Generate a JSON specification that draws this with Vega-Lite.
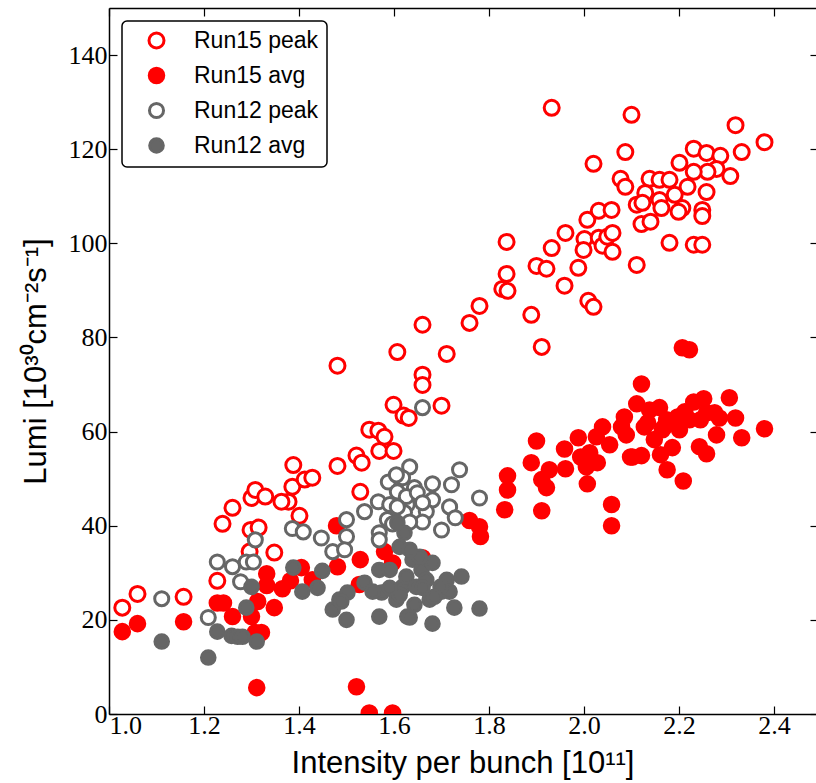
{
  "$schema": "https://vega.github.io/schema/vega-lite/v6.json",
  "width": 707,
  "height": 706,
  "autosize": {"type": "none"},
  "padding": {"left": 109, "top": 8, "right": 0, "bottom": 69},
  "background": "white",
  "config": {
    "view": {"stroke": null},
    "axis": {
      "grid": false,
      "domainColor": "#000000",
      "domainWidth": 1.5,
      "tickColor": "#000000",
      "tickWidth": 1.2,
      "labelFont": "Liberation Serif",
      "labelFontSize": 26,
      "labelColor": "#000000",
      "titleFont": "Liberation Sans",
      "titleFontSize": 31,
      "titleFontWeight": "normal",
      "titleColor": "#000000"
    },
    "legend": {
      "fillColor": "#ffffff",
      "strokeColor": "#000000",
      "strokeWidth": 1.5,
      "cornerRadius": 5,
      "padding": 8,
      "labelFont": "Liberation Sans",
      "labelFontSize": 23,
      "labelColor": "#000000",
      "symbolOffset": 15,
      "labelOffset": 26,
      "rowPadding": 8,
      "symbolStrokeWidth": 3,
      "symbolType": "circle"
    }
  },
  "data": {"values": [
    {"s":"Run15 peak","x":1.028,"y":22.6},{"s":"Run15 peak","x":1.060,"y":25.5},{"s":"Run15 peak","x":1.157,"y":24.9},{"s":"Run15 peak","x":1.228,"y":28.3},{"s":"Run15 peak","x":1.239,"y":40.4},{"s":"Run15 peak","x":1.260,"y":43.8},{"s":"Run15 peak","x":1.300,"y":45.9},{"s":"Run15 peak","x":1.308,"y":47.6},{"s":"Run15 peak","x":1.329,"y":46.2},{"s":"Run15 peak","x":1.298,"y":39.1},{"s":"Run15 peak","x":1.315,"y":39.6},{"s":"Run15 peak","x":1.296,"y":34.5},{"s":"Run15 peak","x":1.348,"y":34.3},{"s":"Run15 peak","x":1.388,"y":52.9},{"s":"Run15 peak","x":1.386,"y":48.3},{"s":"Run15 peak","x":1.378,"y":45.1},{"s":"Run15 peak","x":1.363,"y":45.1},{"s":"Run15 peak","x":1.401,"y":42.1},{"s":"Run15 peak","x":1.412,"y":49.8},{"s":"Run15 peak","x":1.428,"y":50.2},{"s":"Run15 peak","x":1.481,"y":52.7},{"s":"Run15 peak","x":1.521,"y":54.9},{"s":"Run15 peak","x":1.532,"y":53.4},{"s":"Run15 peak","x":1.529,"y":47.2},{"s":"Run15 peak","x":1.548,"y":60.4},{"s":"Run15 peak","x":1.567,"y":60.2},{"s":"Run15 peak","x":1.580,"y":58.9},{"s":"Run15 peak","x":1.569,"y":55.9},{"s":"Run15 peak","x":1.599,"y":55.9},{"s":"Run15 peak","x":1.599,"y":65.7},{"s":"Run15 peak","x":1.620,"y":63.4},{"s":"Run15 peak","x":1.631,"y":62.9},{"s":"Run15 peak","x":1.700,"y":65.5},{"s":"Run15 peak","x":1.481,"y":74.0},{"s":"Run15 peak","x":1.607,"y":76.9},{"s":"Run15 peak","x":1.660,"y":82.7},{"s":"Run15 peak","x":1.711,"y":76.5},{"s":"Run15 peak","x":1.660,"y":72.1},{"s":"Run15 peak","x":1.660,"y":69.9},{"s":"Run15 peak","x":1.759,"y":83.1},{"s":"Run15 peak","x":1.780,"y":86.7},{"s":"Run15 peak","x":1.828,"y":90.3},{"s":"Run15 peak","x":1.839,"y":89.9},{"s":"Run15 peak","x":1.837,"y":93.5},{"s":"Run15 peak","x":1.837,"y":100.3},{"s":"Run15 peak","x":1.911,"y":78.0},{"s":"Run15 peak","x":1.889,"y":84.8},{"s":"Run15 peak","x":1.959,"y":91.0},{"s":"Run15 peak","x":2.009,"y":87.8},{"s":"Run15 peak","x":2.020,"y":86.5},{"s":"Run15 peak","x":1.988,"y":94.8},{"s":"Run15 peak","x":1.900,"y":95.2},{"s":"Run15 peak","x":1.921,"y":94.6},{"s":"Run15 peak","x":1.932,"y":99.0},{"s":"Run15 peak","x":1.961,"y":102.2},{"s":"Run15 peak","x":2.001,"y":100.9},{"s":"Run15 peak","x":1.999,"y":98.6},{"s":"Run15 peak","x":2.031,"y":101.2},{"s":"Run15 peak","x":2.039,"y":99.5},{"s":"Run15 peak","x":2.049,"y":101.4},{"s":"Run15 peak","x":2.060,"y":102.2},{"s":"Run15 peak","x":2.060,"y":98.2},{"s":"Run15 peak","x":2.007,"y":105.0},{"s":"Run15 peak","x":2.031,"y":106.9},{"s":"Run15 peak","x":2.058,"y":107.1},{"s":"Run15 peak","x":2.020,"y":116.9},{"s":"Run15 peak","x":1.932,"y":128.8},{"s":"Run15 peak","x":2.100,"y":127.3},{"s":"Run15 peak","x":2.087,"y":119.4},{"s":"Run15 peak","x":2.077,"y":113.7},{"s":"Run15 peak","x":2.087,"y":112.0},{"s":"Run15 peak","x":2.138,"y":113.7},{"s":"Run15 peak","x":2.129,"y":110.7},{"s":"Run15 peak","x":2.111,"y":108.2},{"s":"Run15 peak","x":2.123,"y":108.6},{"s":"Run15 peak","x":2.121,"y":104.1},{"s":"Run15 peak","x":2.140,"y":104.6},{"s":"Run15 peak","x":2.111,"y":95.4},{"s":"Run15 peak","x":2.159,"y":113.5},{"s":"Run15 peak","x":2.180,"y":113.5},{"s":"Run15 peak","x":2.159,"y":109.2},{"s":"Run15 peak","x":2.163,"y":107.5},{"s":"Run15 peak","x":2.191,"y":110.3},{"s":"Run15 peak","x":2.201,"y":117.1},{"s":"Run15 peak","x":2.218,"y":112.0},{"s":"Run15 peak","x":2.207,"y":107.5},{"s":"Run15 peak","x":2.199,"y":106.7},{"s":"Run15 peak","x":2.180,"y":100.1},{"s":"Run15 peak","x":2.231,"y":120.1},{"s":"Run15 peak","x":2.258,"y":119.2},{"s":"Run15 peak","x":2.287,"y":118.6},{"s":"Run15 peak","x":2.319,"y":125.1},{"s":"Run15 peak","x":2.332,"y":119.4},{"s":"Run15 peak","x":2.380,"y":121.5},{"s":"Run15 peak","x":2.308,"y":114.3},{"s":"Run15 peak","x":2.279,"y":115.8},{"s":"Run15 peak","x":2.260,"y":115.2},{"s":"Run15 peak","x":2.231,"y":115.2},{"s":"Run15 peak","x":2.258,"y":110.9},{"s":"Run15 peak","x":2.249,"y":107.1},{"s":"Run15 peak","x":2.249,"y":105.8},{"s":"Run15 peak","x":2.231,"y":99.7},{"s":"Run15 peak","x":2.249,"y":99.7},
    {"s":"Run15 avg","x":1.028,"y":17.5},{"s":"Run15 avg","x":1.060,"y":19.2},{"s":"Run15 avg","x":1.157,"y":19.6},{"s":"Run15 avg","x":1.228,"y":23.6},{"s":"Run15 avg","x":1.241,"y":23.6},{"s":"Run15 avg","x":1.260,"y":20.7},{"s":"Run15 avg","x":1.300,"y":20.7},{"s":"Run15 avg","x":1.313,"y":23.9},{"s":"Run15 avg","x":1.332,"y":29.8},{"s":"Run15 avg","x":1.332,"y":27.3},{"s":"Run15 avg","x":1.308,"y":17.3},{"s":"Run15 avg","x":1.321,"y":17.3},{"s":"Run15 avg","x":1.311,"y":5.6},{"s":"Run15 avg","x":1.348,"y":22.6},{"s":"Run15 avg","x":1.365,"y":26.6},{"s":"Run15 avg","x":1.382,"y":28.3},{"s":"Run15 avg","x":1.405,"y":31.1},{"s":"Run15 avg","x":1.428,"y":28.5},{"s":"Run15 avg","x":1.479,"y":40.0},{"s":"Run15 avg","x":1.481,"y":31.3},{"s":"Run15 avg","x":1.529,"y":32.8},{"s":"Run15 avg","x":1.527,"y":27.5},{"s":"Run15 avg","x":1.580,"y":34.5},{"s":"Run15 avg","x":1.597,"y":32.1},{"s":"Run15 avg","x":1.660,"y":33.2},{"s":"Run15 avg","x":1.521,"y":5.8},{"s":"Run15 avg","x":1.548,"y":0.2},{"s":"Run15 avg","x":1.597,"y":0.2},{"s":"Run15 avg","x":1.759,"y":41.1},{"s":"Run15 avg","x":1.780,"y":39.8},{"s":"Run15 avg","x":1.782,"y":37.7},{"s":"Run15 avg","x":1.833,"y":43.4},{"s":"Run15 avg","x":1.839,"y":47.6},{"s":"Run15 avg","x":1.839,"y":50.6},{"s":"Run15 avg","x":1.889,"y":53.4},{"s":"Run15 avg","x":1.900,"y":58.0},{"s":"Run15 avg","x":1.911,"y":49.8},{"s":"Run15 avg","x":1.921,"y":48.1},{"s":"Run15 avg","x":1.927,"y":51.9},{"s":"Run15 avg","x":1.911,"y":43.2},{"s":"Run15 avg","x":1.959,"y":56.3},{"s":"Run15 avg","x":1.961,"y":52.1},{"s":"Run15 avg","x":1.988,"y":58.7},{"s":"Run15 avg","x":1.993,"y":54.6},{"s":"Run15 avg","x":2.007,"y":48.9},{"s":"Run15 avg","x":2.012,"y":55.5},{"s":"Run15 avg","x":2.005,"y":52.5},{"s":"Run15 avg","x":2.026,"y":58.9},{"s":"Run15 avg","x":2.039,"y":61.0},{"s":"Run15 avg","x":2.054,"y":57.2},{"s":"Run15 avg","x":2.028,"y":53.4},{"s":"Run15 avg","x":2.058,"y":44.5},{"s":"Run15 avg","x":2.058,"y":40.0},{"s":"Run15 avg","x":2.085,"y":63.1},{"s":"Run15 avg","x":2.079,"y":61.0},{"s":"Run15 avg","x":2.089,"y":59.3},{"s":"Run15 avg","x":2.098,"y":54.6},{"s":"Run15 avg","x":2.111,"y":65.9},{"s":"Run15 avg","x":2.121,"y":70.1},{"s":"Run15 avg","x":2.127,"y":61.0},{"s":"Run15 avg","x":2.102,"y":54.6},{"s":"Run15 avg","x":2.121,"y":54.9},{"s":"Run15 avg","x":2.134,"y":61.9},{"s":"Run15 avg","x":2.138,"y":64.6},{"s":"Run15 avg","x":2.159,"y":65.1},{"s":"Run15 avg","x":2.169,"y":61.0},{"s":"Run15 avg","x":2.174,"y":62.5},{"s":"Run15 avg","x":2.161,"y":55.1},{"s":"Run15 avg","x":2.175,"y":51.9},{"s":"Run15 avg","x":2.186,"y":56.6},{"s":"Run15 avg","x":2.197,"y":63.1},{"s":"Run15 avg","x":2.212,"y":64.2},{"s":"Run15 avg","x":2.201,"y":60.4},{"s":"Run15 avg","x":2.209,"y":49.5},{"s":"Run15 avg","x":2.207,"y":77.8},{"s":"Run15 avg","x":2.222,"y":77.4},{"s":"Run15 avg","x":2.231,"y":66.3},{"s":"Run15 avg","x":2.252,"y":67.0},{"s":"Run15 avg","x":2.222,"y":62.5},{"s":"Run15 avg","x":2.245,"y":62.5},{"s":"Run15 avg","x":2.258,"y":64.0},{"s":"Run15 avg","x":2.275,"y":64.0},{"s":"Run15 avg","x":2.279,"y":59.3},{"s":"Run15 avg","x":2.285,"y":62.9},{"s":"Run15 avg","x":2.243,"y":56.8},{"s":"Run15 avg","x":2.258,"y":55.3},{"s":"Run15 avg","x":2.306,"y":67.2},{"s":"Run15 avg","x":2.319,"y":62.9},{"s":"Run15 avg","x":2.332,"y":58.7},{"s":"Run15 avg","x":2.380,"y":60.6},{"s":"Run15 avg","x":2.165,"y":60.4},{"s":"Run15 avg","x":2.148,"y":58.3},
    {"s":"Run12 peak","x":1.111,"y":24.5},{"s":"Run12 peak","x":1.209,"y":20.5},{"s":"Run12 peak","x":1.228,"y":32.3},{"s":"Run12 peak","x":1.260,"y":31.3},{"s":"Run12 peak","x":1.277,"y":28.1},{"s":"Run12 peak","x":1.289,"y":32.3},{"s":"Run12 peak","x":1.304,"y":32.3},{"s":"Run12 peak","x":1.308,"y":37.0},{"s":"Run12 peak","x":1.386,"y":39.4},{"s":"Run12 peak","x":1.409,"y":38.7},{"s":"Run12 peak","x":1.447,"y":37.4},{"s":"Run12 peak","x":1.471,"y":34.5},{"s":"Run12 peak","x":1.500,"y":41.3},{"s":"Run12 peak","x":1.500,"y":37.7},{"s":"Run12 peak","x":1.496,"y":34.9},{"s":"Run12 peak","x":1.538,"y":43.0},{"s":"Run12 peak","x":1.567,"y":45.1},{"s":"Run12 peak","x":1.569,"y":38.5},{"s":"Run12 peak","x":1.569,"y":37.0},{"s":"Run12 peak","x":1.588,"y":49.3},{"s":"Run12 peak","x":1.607,"y":47.2},{"s":"Run12 peak","x":1.586,"y":41.3},{"s":"Run12 peak","x":1.597,"y":40.4},{"s":"Run12 peak","x":1.660,"y":65.1},{"s":"Run12 peak","x":1.633,"y":52.5},{"s":"Run12 peak","x":1.738,"y":51.9},{"s":"Run12 peak","x":1.618,"y":50.2},{"s":"Run12 peak","x":1.681,"y":48.9},{"s":"Run12 peak","x":1.721,"y":48.7},{"s":"Run12 peak","x":1.643,"y":48.1},{"s":"Run12 peak","x":1.780,"y":45.9},{"s":"Run12 peak","x":1.591,"y":44.5},{"s":"Run12 peak","x":1.628,"y":44.5},{"s":"Run12 peak","x":1.681,"y":45.5},{"s":"Run12 peak","x":1.717,"y":44.0},{"s":"Run12 peak","x":1.668,"y":43.0},{"s":"Run12 peak","x":1.622,"y":42.8},{"s":"Run12 peak","x":1.729,"y":41.7},{"s":"Run12 peak","x":1.660,"y":40.8},{"s":"Run12 peak","x":1.700,"y":39.1},{"s":"Run12 peak","x":1.605,"y":50.8},{"s":"Run12 peak","x":1.626,"y":46.2},{"s":"Run12 peak","x":1.649,"y":47.0},{"s":"Run12 peak","x":1.660,"y":44.9},{"s":"Run12 peak","x":1.607,"y":44.0},{"s":"Run12 peak","x":1.633,"y":40.8},
    {"s":"Run12 avg","x":1.111,"y":15.4},{"s":"Run12 avg","x":1.209,"y":12.0},{"s":"Run12 avg","x":1.228,"y":17.5},{"s":"Run12 avg","x":1.258,"y":16.6},{"s":"Run12 avg","x":1.271,"y":16.4},{"s":"Run12 avg","x":1.281,"y":16.4},{"s":"Run12 avg","x":1.311,"y":15.4},{"s":"Run12 avg","x":1.289,"y":22.6},{"s":"Run12 avg","x":1.300,"y":27.0},{"s":"Run12 avg","x":1.388,"y":31.1},{"s":"Run12 avg","x":1.407,"y":26.0},{"s":"Run12 avg","x":1.439,"y":26.8},{"s":"Run12 avg","x":1.449,"y":30.4},{"s":"Run12 avg","x":1.471,"y":22.2},{"s":"Run12 avg","x":1.485,"y":24.3},{"s":"Run12 avg","x":1.502,"y":25.8},{"s":"Run12 avg","x":1.500,"y":20.0},{"s":"Run12 avg","x":1.538,"y":27.9},{"s":"Run12 avg","x":1.569,"y":30.6},{"s":"Run12 avg","x":1.574,"y":25.8},{"s":"Run12 avg","x":1.569,"y":20.7},{"s":"Run12 avg","x":1.591,"y":30.6},{"s":"Run12 avg","x":1.605,"y":24.3},{"s":"Run12 avg","x":1.618,"y":27.0},{"s":"Run12 avg","x":1.628,"y":20.7},{"s":"Run12 avg","x":1.626,"y":29.2},{"s":"Run12 avg","x":1.622,"y":38.5},{"s":"Run12 avg","x":1.612,"y":35.5},{"s":"Run12 avg","x":1.639,"y":32.8},{"s":"Run12 avg","x":1.658,"y":30.6},{"s":"Run12 avg","x":1.647,"y":27.0},{"s":"Run12 avg","x":1.668,"y":28.5},{"s":"Run12 avg","x":1.681,"y":32.1},{"s":"Run12 avg","x":1.675,"y":24.3},{"s":"Run12 avg","x":1.700,"y":26.0},{"s":"Run12 avg","x":1.711,"y":28.5},{"s":"Run12 avg","x":1.727,"y":22.6},{"s":"Run12 avg","x":1.742,"y":29.2},{"s":"Run12 avg","x":1.717,"y":26.0},{"s":"Run12 avg","x":1.681,"y":19.2},{"s":"Run12 avg","x":1.780,"y":22.4},{"s":"Run12 avg","x":1.643,"y":23.2},{"s":"Run12 avg","x":1.612,"y":25.3},{"s":"Run12 avg","x":1.591,"y":26.8},{"s":"Run12 avg","x":1.555,"y":26.0},{"s":"Run12 avg","x":1.654,"y":33.4},{"s":"Run12 avg","x":1.633,"y":34.9},{"s":"Run12 avg","x":1.607,"y":40.6},{"s":"Run12 avg","x":1.698,"y":27.0},{"s":"Run12 avg","x":1.685,"y":24.9},{"s":"Run12 avg","x":1.633,"y":20.5},{"s":"Run12 avg","x":1.660,"y":26.8},{"s":"Run12 avg","x":1.489,"y":23.9}
  ]},
  "layer": [
    {
      "mark": {"type": "point", "opacity": 1, "strokeWidth": 3, "clip": true},
      "encoding": {
        "x": {"field": "x", "type": "quantitative",
          "scale": {"domain": [1.0, 2.4884], "nice": false, "zero": false},
          "axis": {"orient": "bottom", "title": "Intensity per bunch [10¹¹]", "values": [1.0, 1.2, 1.4, 1.6, 1.8, 2.0, 2.2, 2.4], "format": ".1f", "tickSize": -8, "labelPadding": 6, "titlePadding": 10}},
        "y": {"field": "y", "type": "quantitative",
          "scale": {"domain": [0, 150], "nice": false, "zero": false},
          "axis": {"orient": "left", "title": "Lumi [10³⁰cm⁻²s⁻¹]", "values": [0, 20, 40, 60, 80, 100, 120, 140], "tickSize": -8, "labelPadding": 10, "titlePadding": 16}},
        "fill": {"field": "s", "type": "nominal",
          "scale": {"domain": ["Run15 peak", "Run15 avg", "Run12 peak", "Run12 avg"], "range": ["#ffffff", "#ff0000", "#ffffff", "#666666"]},
          "legend": {"title": null, "orient": "none", "legendX": 13, "legendY": 13}},
        "stroke": {"field": "s", "type": "nominal",
          "scale": {"domain": ["Run15 peak", "Run15 avg", "Run12 peak", "Run12 avg"], "range": ["#ff0000", "#ff0000", "#666666", "#666666"]},
          "legend": {"title": null, "orient": "none", "legendX": 13, "legendY": 13}},
        "size": {"field": "s", "type": "nominal",
          "scale": {"domain": ["Run15 peak", "Run15 avg", "Run12 peak", "Run12 avg"], "range": [225, 185, 225, 185]},
          "legend": {"title": null, "orient": "none", "legendX": 13, "legendY": 13}}
      }
    },
    {
      "mark": {"type": "point", "opacity": 0},
      "encoding": {
        "x": {"field": "x", "type": "quantitative",
          "scale": {"domain": [1.0, 2.4884], "nice": false, "zero": false},
          "axis": {"orient": "top", "title": null, "labels": false, "values": [1.0, 1.2, 1.4, 1.6, 1.8, 2.0, 2.2, 2.4], "tickSize": -8}},
        "y": {"field": "y", "type": "quantitative",
          "scale": {"domain": [0, 150], "nice": false, "zero": false},
          "axis": {"orient": "right", "title": null, "labels": false, "domain": false, "values": [0, 20, 40, 60, 80, 100, 120, 140], "tickSize": -6}}
      }
    }
  ],
  "resolve": {"axis": {"x": "independent", "y": "independent"}}
}
